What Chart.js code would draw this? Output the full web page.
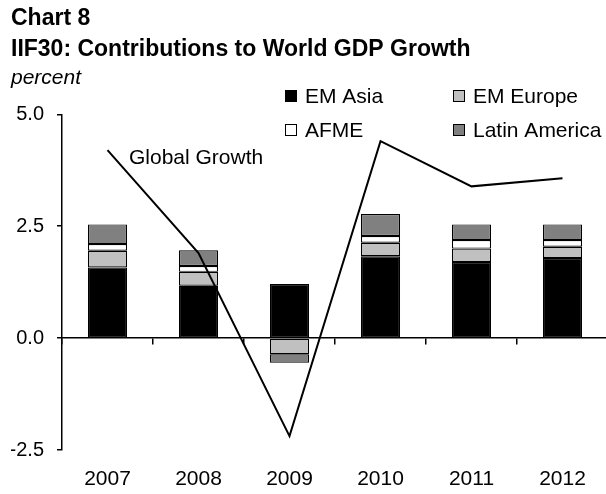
<!DOCTYPE html>
<html>
<head>
<meta charset="utf-8">
<script src="https://cdn.jsdelivr.net/npm/chart.js@4.4.1/dist/chart.umd.min.js"></script>
<style>
  html, body { margin: 0; padding: 0; background: #fff; overflow: hidden; }
  canvas { display: block; }
</style>
</head>
<body>
<canvas id="gdp" width="608" height="494"></canvas>
<script>
// contributions by region, percentage points
const years = ["2007", "2008", "2009", "2010", "2011", "2012"];
const emAsia = [1.58, 1.17, 1.21, 1.83, 1.70, 1.79];
const emEurope = [0.37, 0.31, -0.36, 0.30, 0.30, 0.25];
const afme = [0.15, 0.13, 0, 0.15, 0.19, 0.15];
const latinAmerica = [0.44, 0.35, -0.19, 0.49, 0.35, 0.35];
const globalGrowth = [4.20, 1.90, -2.19, 4.40, 3.39, 3.57];
const yTicks = [-2.5, 0, 2.5, 5.0];

const FONT = "'Liberation Sans', Arial, sans-serif";

// two-column legend in the top right + the line's own label
const boxLegend = {
  id: 'boxLegend',
  afterDraw(chart) {
    const ctx = chart.ctx;
    const cols = [285, 453];
    const rows = [96, 130];
    ctx.save();
    ctx.font = '21px ' + FONT;
    ctx.textBaseline = 'middle';
    ctx.textAlign = 'left';
    chart.data.datasets.filter(d => d.type === 'bar').forEach((d, i) => {
      const x = cols[i % 2], y = rows[Math.floor(i / 2)];
      ctx.fillStyle = d.backgroundColor;
      ctx.fillRect(x, y - 6, 12, 12);
      ctx.strokeStyle = '#000';
      ctx.lineWidth = 1;
      ctx.strokeRect(x + 0.5, y - 5.5, 11, 11);
      ctx.fillStyle = '#000';
      ctx.fillText(d.label, x + 20, y + 1);
    });
    const line = chart.data.datasets.find(d => d.type === 'line');
    ctx.fillText(line.label, 129, 158);
    ctx.restore();
  }
};

new Chart(document.getElementById('gdp'), {
  data: {
    labels: years,
    datasets: [
      { type: 'line', label: 'Global Growth', data: globalGrowth, borderColor: '#000', borderWidth: 2,
        pointRadius: 0, tension: 0, order: 0 },
      { type: 'bar', label: 'EM Asia', data: emAsia, backgroundColor: '#000000', order: 1 },
      { type: 'bar', label: 'EM Europe', data: emEurope, backgroundColor: '#c0c0c0', order: 1 },
      { type: 'bar', label: 'AFME', data: afme, backgroundColor: '#ffffff', order: 1 },
      { type: 'bar', label: 'Latin America', data: latinAmerica, backgroundColor: '#808080', order: 1 }
    ]
  },
  options: {
    responsive: false,
    animation: false,
    layout: { padding: { left: 11 } },
    datasets: {
      bar: { borderColor: '#000', borderWidth: 1.2, borderSkipped: false,
             categoryPercentage: 1, barPercentage: 0.43 }
    },
    plugins: {
      legend: { display: false },
      tooltip: { enabled: false },
      title: {
        display: true, align: 'start', color: '#000',
        text: ['Chart 8', 'IIF30: Contributions to World GDP Growth'],
        font: { family: FONT, size: 23, weight: 'bold', lineHeight: 1.35 },
        padding: { top: 3, bottom: 0 }
      },
      subtitle: {
        display: true, align: 'start', color: '#000', text: 'percent',
        font: { family: FONT, size: 21, style: 'italic', lineHeight: 1.2 },
        padding: { top: 0, bottom: 24 }
      }
    },
    scales: {
      x: {
        stacked: true,
        border: { display: false },
        grid: { display: false, drawTicks: false },
        ticks: { color: '#000', font: { family: FONT, size: 21 }, padding: 17, maxRotation: 0 },
        afterFit(s) { s.height = 44; }
      },
      // axis line sitting on zero, with tick marks between the years
      xZero: {
        type: 'category', labels: years, position: { y: 0 }, offset: true,
        border: { color: '#000', width: 1.5 },
        grid: { offset: true, drawOnChartArea: false, drawTicks: true, tickLength: 6, color: '#000', lineWidth: 1.5 },
        ticks: { display: false }
      },
      y: {
        stacked: true, min: -2.5, max: 5,
        border: { color: '#000', width: 1.5 },
        grid: { drawOnChartArea: false, tickLength: 5, color: '#000', lineWidth: 1.5 },
        ticks: { color: '#000', font: { family: FONT, size: 20 }, padding: 13, callback: v => v.toFixed(1) },
        afterBuildTicks(s) { s.ticks = yTicks.map(v => ({ value: v })); },
        afterFit(s) { s.width = 51; }
      }
    }
  },
  plugins: [boxLegend]
});
</script>
</body>
</html>
